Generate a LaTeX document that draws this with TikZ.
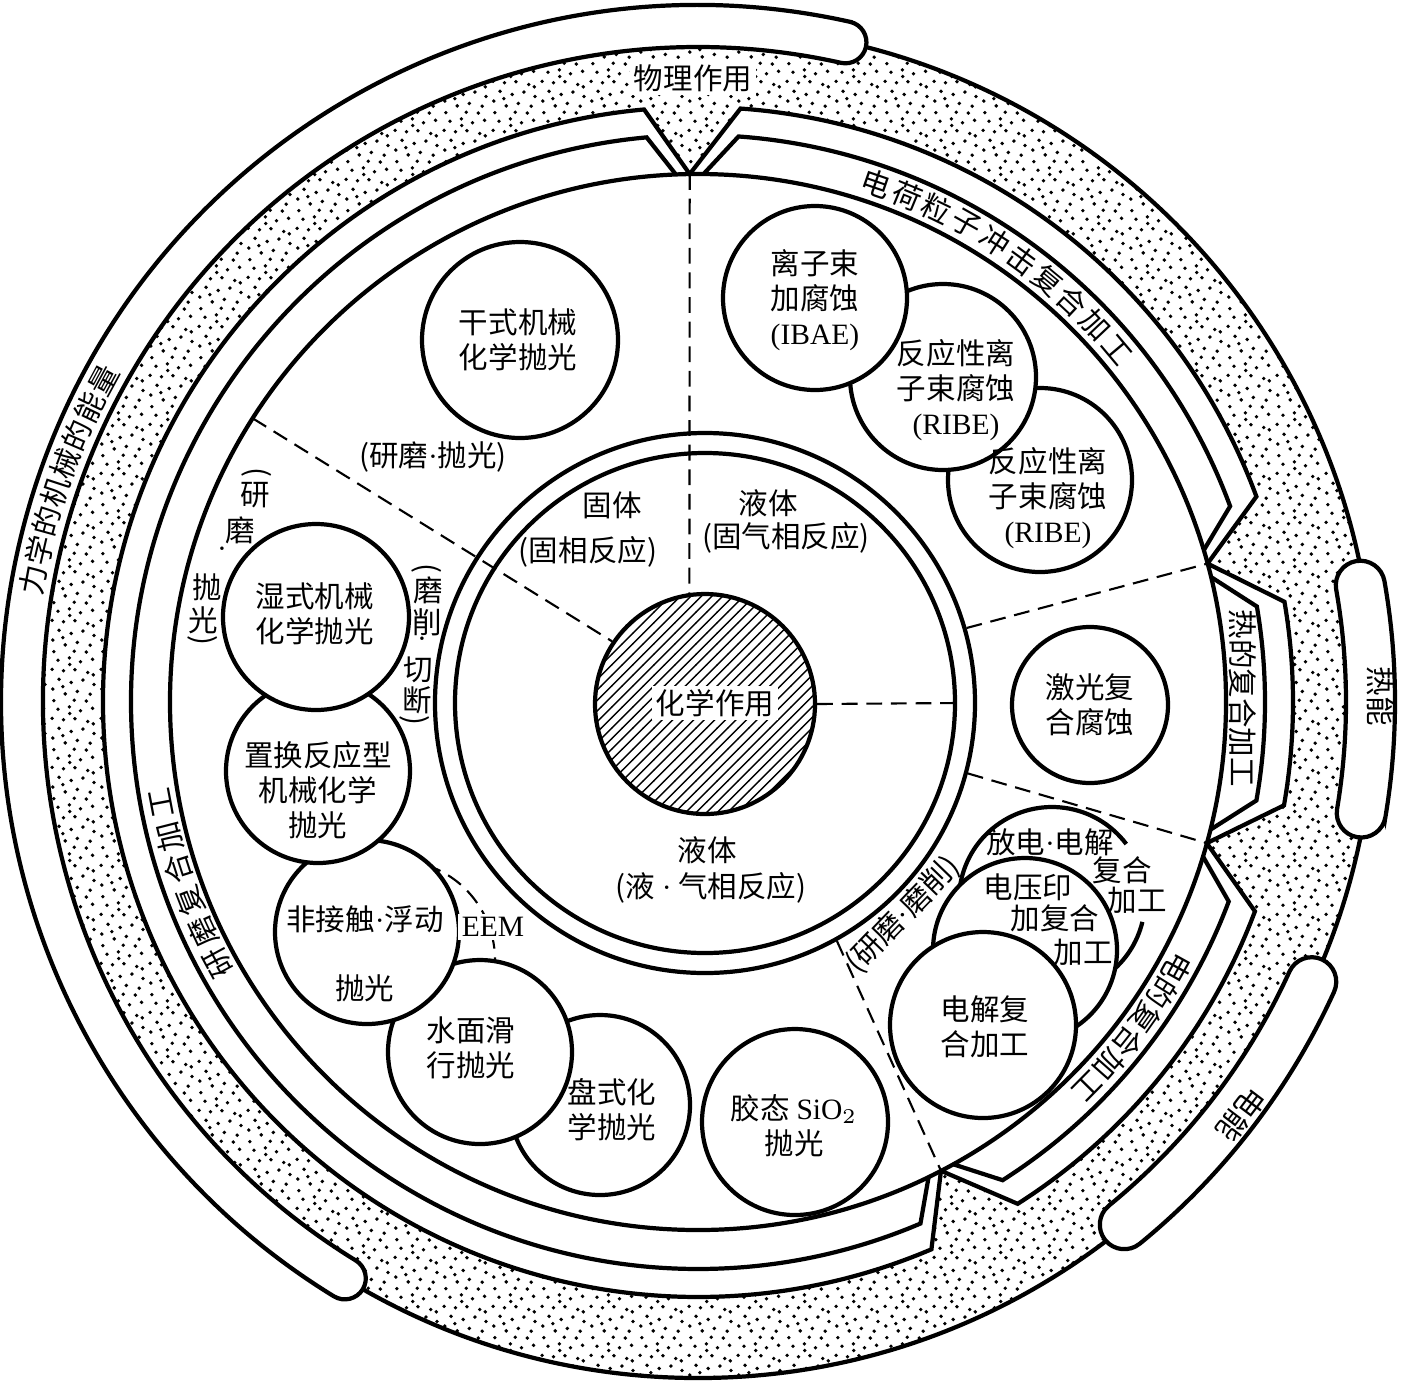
\documentclass[tikz,border=0pt]{standalone}
\usepackage{fontspec}
\setmainfont{Liberation Serif}
\newfontfamily\cjk{Noto Sans CJK SC}
\usetikzlibrary{patterns, patterns.meta, calc}

\newcommand{\cjktext}{\cjk\fontsize{8.4}{10}\selectfont}
\newcommand{\lat}[1]{{\rmfamily #1}}
\newcommand{\dt}{{\rmfamily ·}}

% irregular stipple for the energy ring
\tikzdeclarepattern{
  name=stipple,
  type=uncolored,
  bottom left={(0pt,0pt)},
  top right={(14pt,14pt)},
  tile size={(14pt,14pt)},
  code={
    \foreach \px/\py in {1.1/2.3, 4.7/0.9, 8.2/1.6, 11.9/0.8, 2.9/5.1, 6.4/4.2, 9.8/4.9, 13.0/3.6,
      0.9/8.0, 4.2/7.6, 7.5/7.9, 11.2/7.1, 2.6/10.6, 5.9/11.3, 9.1/10.2, 12.6/10.9,
      1.4/13.1, 7.3/13.2, 10.8/13.0, 4.0/3.0, 12.8/6.4, 6.0/9.4}
      {\fill (\px pt,\py pt) circle (0.55pt);}
  }
}

\begin{document}
\begin{tikzpicture}[
  line width=1.2pt,
  ball/.style={circle, draw, fill=white, minimum size=#1, inner sep=0pt},
  ball/.default=1.84cm,
  txt/.style={font=\cjktext, align=center, inner sep=1pt},
  divline/.style={line width=0.6pt, dash pattern=on 4.5pt off 2.5pt},
]
\useasboundingbox (-6.98,-6.80) rectangle (7.09,7.02);

% stippled ring
\draw[pattern=stipple] (0,0) circle (6.76);

% notched border of the processing ring
\filldraw[fill=white] (-15.5:5.28)
  \foreach \ja/\jb/\dd in {-15.5/15.2/5.5, 15.2/90.9/5, 90.9/297.4/4.3, 297.4/344.5/5.1}{
    -- ({\ja+\dd}:5.95) arc[start angle={\ja+\dd}, end angle={\jb-\dd}, radius=5.95] -- (\jb:5.28)
  } -- cycle;

% energy bands with round ends
\foreach \ta/\tb/\ri/\ro in {77.4/238.5/6.55/6.97, -9.5/10/6.48/6.97, -50.8/-24.5/6.50/6.99}
  \filldraw[fill=white] (\ta:\ro) arc[start angle=\ta, end angle=\tb, radius=\ro]
    arc[start angle=\tb, end angle={\tb+180}, radius={(\ro-\ri)/2}]
    arc[start angle=\tb, end angle=\ta, radius=\ri]
    arc[start angle={\ta+180}, end angle={\ta+360}, radius={(\ro-\ri)/2}] -- cycle;

\draw (0,0) circle (5.28);
\coordinate (J1) at (90.9:5.28);
\coordinate (J2) at (15.2:5.28);
\coordinate (J3) at (-15.5:5.28);
\coordinate (J4) at (-62.6:5.28);

% sector outlines
\foreach \ja/\jb/\dd in {-15.5/15.2/5.5, 15.2/90.9/5, 90.9/297.4/4.3, 297.4/344.5/5.1}
  \draw ({\ja+1.5}:5.28) -- ({\ja+\dd}:5.67) arc[start angle={\ja+\dd}, end angle={\jb-\dd}, radius=5.67] -- ({\jb-1.5}:5.28);

% texts on the rings
\node[txt, fill=white] (phys) at (-0.05,6.24) {物理作用};
\foreach \ch [count=\i from 0] in {电,荷,粒,子,冲,击,复,合,加,工}
  \node[txt, rotate={71-3.44*\i-90}] (ion-\i) at ({71-3.44*\i}:5.48) {\ch};
\foreach \ch [count=\i from 0] in {电,的,复,合,加,工}
  \node[txt, rotate={-29-3.12*\i-90}] (ele-\i) at ({-29-3.12*\i}:5.48) {\ch};
\foreach \ch [count=\i from 0] in {研,磨,复,合,加,工}
  \node[txt, rotate={208.5-3.56*\i-90}] (grd-\i) at ({208.5-3.56*\i}:5.46) {\ch};
\foreach \ch [count=\i from 0] in {力,学,的,机,械,的,能,量}
  \node[txt, rotate={169.6-2.57*\i-90}] (mech-\i) at ({169.6-2.57*\i}:6.76) {\ch};
\node[txt, rotate=-90] (heat) at (0.4:5.45) {热的复合加工};
\node[txt, rotate=-90] (heatE) at (0.5:6.83) {热能};
\node[txt, rotate=-127.2] (elecE) at (-37.2:6.82) {电能};

% chemical core
\node[circle, draw, minimum size=5.4cm] (ringout) at (0.07,-0.01) {};
\node[circle, draw, minimum size=5.0cm] (ringin) at (0.07,-0.01) {};
\node[circle, draw, pattern=north east lines, minimum size=2.2cm] (chem) at (0.07,-0.02) {};
\node[txt, fill=white] (chemt) at (0.17,-0.01) {化学作用};

\draw[divline] (J1) -- (chem.98);
\draw[divline] (147.5:5.28) -- (chem.146);
\draw[divline] (chem.east) -- (ringin.east);
\draw[divline] (ringout.16) -- (J2);
\draw[divline] (ringout.-15) -- (J3);
\draw[divline] (ringout.-61) -- (J4);

\node[txt] (solid) at (-0.86,1.97) {固体};
\node[txt] (solidr) at (-1.10,1.50) {(固相反应)};
\node[txt] (liqa) at (0.70,1.99) {液体};
\node[txt] (liqar) at (0.88,1.64) {(固气相反应)};
\node[txt] (liqb) at (0.09,-1.48) {液体};
\node[txt] (liqbr) at (0.13,-1.86) {(液\ \dt\ 气相反应)};

% EEM arc
\coordinate (eemc) at (-3.03,-2.58);
\draw[divline] (eemc) ++(72:1.0) arc[start angle=72, end angle=0, radius=1.0];

% process circles
\node[ball=1.96cm] (dry) at (-1.78,3.62) {};
\node[ball] (ribe2) at (3.42,2.22) {};
\node[ball=1.86cm] (ribe1) at (2.45,3.25) {};
\node[ball] (ibae) at (1.17,4.04) {};
\node[ball=1.56cm] (laser) at (3.92,-0.03) {};
\node[ball=1.80cm] (plate) at (-0.98,-4.03) {};
\node[ball] (water) at (-2.18,-3.50) {};
\node[ball] (noncon) at (-3.31,-2.30) {};
\node[ball] (subst) at (-3.80,-0.69) {};
\node[ball=1.86cm] (wet) at (-3.82,0.85) {};
\node[ball=1.86cm] (colloid) at (0.97,-4.20) {};
\coordinate (dis) at (3.54,-1.98);
\draw (dis) ++(37:0.93) arc[start angle=37, end angle=346.4, radius=0.93];
\node[ball] (imprint) at (3.27,-2.48) {};
\node[ball=1.86cm] (elec) at (2.85,-3.23) {};

\node[txt] (dryt) at (-1.80,3.62) {干式机械\\化学抛光};
\node[txt] (ibaet) at (1.17,4.02) {离子束\\加腐蚀\\\lat{(IBAE)}};
\node[txt] (ribe1t) at (2.58,3.12) {反应性离\\子束腐蚀\\\lat{(RIBE)}};
\node[txt] (ribe2t) at (3.50,2.04) {反应性离\\子束腐蚀\\\lat{(RIBE)}};
\node[txt] (lasert) at (3.92,-0.03) {激光复\\合腐蚀};
\node[txt] (wett) at (-3.83,0.88) {湿式机械\\化学抛光};
\node[txt] (substt) at (-3.80,-0.88) {置换反应型\\机械化学\\抛光};
\node[txt] (noncont) at (-3.33,-2.52) {非接触\dt 浮动\\[9.5pt]抛光};
\node[txt] (watert) at (-2.27,-3.46) {水面滑\\行抛光};
\node[txt] (platet) at (-0.86,-4.08) {盘式化\\学抛光};
\node[txt] (colloidt) at (0.96,-4.24) {胶态 \lat{SiO$_2$}\\抛光};
\node[txt] (elect) at (2.87,-3.25) {电解复\\合加工};
\node[txt] (dist) at (3.52,-1.40) {放电\dt 电解};
\node[txt] (dista) at (4.24,-1.68) {复合};
\node[txt] (distb) at (4.39,-1.98) {加工};
\node[txt] (imprta) at (3.30,-1.85) {电压印};
\node[txt] (imprtb) at (3.57,-2.16) {加复合};
\node[txt] (imprtc) at (3.85,-2.50) {加工};
\node[txt, fill=white] (eem) at (-2.05,-2.25) {\lat{EEM}};

% region labels
\node[txt] (grp) at (-2.65,2.45) {(研磨\dt 抛光)};
\foreach \ch/\x/\y/\r [count=\i] in {{(}/-4.41/2.30/-90, 研/-4.43/2.07/0, 磨/-4.58/1.72/0, \dt/-4.76/1.49/0,
    抛/-4.91/1.15/0, 光/-4.95/0.82/0, {)}/-4.95/0.62/-90}
  \node[txt, rotate=\r] (gpv-\i) at (\x,\y) {\ch};
\foreach \ch/\x/\y/\r [count=\i] in {{(}/-2.71/1.34/-90, 磨/-2.70/1.12/0, 削/-2.71/0.80/0, \dt/-2.76/0.59/0,
    切/-2.80/0.32/0, 断/-2.81/0.02/0, {)}/-2.83/-0.18/-90}
  \node[txt, rotate=\r] (gcv-\i) at (\x,\y) {\ch};
\node[txt, rotate=46] (grm) at (2.05,-2.13) {(研磨\dt 磨削)};
\end{tikzpicture}
\end{document}
